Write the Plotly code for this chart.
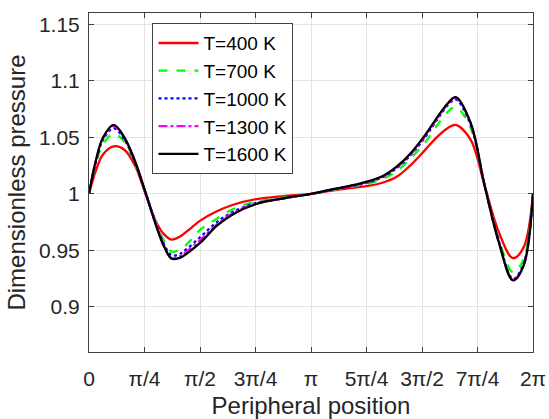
import numpy as np
import plotly.graph_objects as go

# Peripheral position (rad)
x_pos = [0.0, 0.1, 0.2, 0.35, 0.5, 0.65, 0.8, 0.95, 1.05, 1.17, 1.29, 1.38, 1.58, 1.81, 2.04, 2.37, 2.75,
         3.1416, 3.41, 3.69, 3.95, 4.165, 4.354, 4.54, 4.745, 4.92, 5.085, 5.19, 5.4, 5.6, 5.8, 6.0, 6.15, 6.2832]

p_400 = [1.0, 1.021, 1.035, 1.042, 1.039, 1.025, 1.000, 0.975, 0.965, 0.9594, 0.9622, 0.9665, 0.9765, 0.9845, 0.9903, 0.9953, 0.998,
         1.0, 1.0026, 1.005, 1.007, 1.010, 1.015, 1.0247, 1.038, 1.050, 1.0585, 1.061, 1.048, 1.007, 0.966, 0.943, 0.9526, 1.0]
p_700 = [1.0, 1.027, 1.044, 1.053, 1.046, 1.027, 1.001, 0.974, 0.960, 0.9488, 0.951, 0.955, 0.9685, 0.978, 0.9865, 0.993, 0.9965,
         1.0, 1.003, 1.006, 1.009, 1.0135, 1.020, 1.0306, 1.0444, 1.060, 1.073, 1.0768, 1.0585, 1.007, 0.960, 0.9306, 0.942, 1.0]
p_1000 = [1.0, 1.029, 1.048, 1.058, 1.048, 1.028, 1.001, 0.973, 0.957, 0.9455, 0.947, 0.951, 0.962, 0.975, 0.984, 0.992, 0.9958,
          1.0, 1.0033, 1.0065, 1.010, 1.015, 1.0227, 1.0335, 1.049, 1.065, 1.079, 1.0835, 1.061, 1.007, 0.958, 0.9247, 0.938, 1.0]
p_1300 = [1.0, 1.030, 1.049, 1.060, 1.049, 1.029, 1.001, 0.972, 0.956, 0.943, 0.945, 0.949, 0.9595, 0.973, 0.983, 0.9915, 0.996,
          1.0, 1.0034, 1.0068, 1.0105, 1.0155, 1.0235, 1.034, 1.050, 1.066, 1.080, 1.085, 1.062, 1.007, 0.957, 0.924, 0.937, 1.0]
p_1600 = [1.0, 1.030, 1.050, 1.061, 1.050, 1.029, 1.001, 0.9718, 0.955, 0.9425, 0.9435, 0.947, 0.957, 0.9718, 0.982, 0.991, 0.996,
          1.0, 1.0035, 1.007, 1.011, 1.016, 1.024, 1.035, 1.051, 1.067, 1.0806, 1.0856, 1.063, 1.007, 0.957, 0.9234, 0.9365, 1.0]

x_tick_vals = [0, np.pi/4, np.pi/2, 3*np.pi/4, np.pi, 5*np.pi/4, 3*np.pi/2, 7*np.pi/4, 2*np.pi]
x_tick_text = ["0", "π/4", "π/2", "3π/4", "π", "5π/4", "3π/2", "7π/4", "2π"]
y_tick_vals = [0.9, 0.95, 1.0, 1.05, 1.1, 1.15]
y_tick_text = ["0.9", "0.95", "1", "1.05", "1.1", "1.15"]

series = [
    ("T=400 K", p_400, "#FF0000", "solid"),
    ("T=700 K", p_700, "#00FF00", "dash"),
    ("T=1000 K", p_1000, "#0000FF", "dot"),
    ("T=1300 K", p_1300, "#FF00FF", "dashdot"),
    ("T=1600 K", p_1600, "#000000", "solid"),
]

fig = go.Figure()
for name, vals, col, dash in series:
    fig.add_trace(go.Scatter(
        x=x_pos, y=vals, mode="lines", name=name,
        line=dict(color=col, width=2.3, dash=dash, shape="spline", smoothing=1.0),
    ))

axis_col = "#404040"
fig.update_layout(
    width=549, height=419,
    margin=dict(l=89, r=16, t=13, b=67),
    paper_bgcolor="white", plot_bgcolor="white",
    font=dict(family="Liberation Sans, Arial, sans-serif", size=21, color="#262626"),
    showlegend=True,
    legend=dict(
        x=0.143, y=0.97, xanchor="left", yanchor="top",
        bgcolor="white", bordercolor=axis_col, borderwidth=1,
        font=dict(size=19, color="#000000"),
        tracegroupgap=0, itemwidth=40,
    ),
)
fig.update_xaxes(
    range=[0, 2*np.pi], tickmode="array", tickvals=x_tick_vals, ticktext=x_tick_text,
    showgrid=True, gridcolor="#E3E3E3", gridwidth=1,
    showline=True, linecolor=axis_col, linewidth=1, mirror="ticks",
    ticks="inside", ticklen=5, tickcolor=axis_col,
    zeroline=False, ticklabelstandoff=8, automargin=False,
    title=dict(text="Peripheral position", font=dict(size=24, color="#262626"), standoff=9),
    tickfont=dict(size=21, color="#262626"),
)
fig.update_yaxes(
    range=[0.86, 1.16], tickmode="array", tickvals=y_tick_vals, ticktext=y_tick_text,
    showgrid=True, gridcolor="#E3E3E3", gridwidth=1,
    showline=True, linecolor=axis_col, linewidth=1, mirror="ticks",
    ticks="inside", ticklen=5, tickcolor=axis_col,
    zeroline=False, ticklabelstandoff=4, automargin=False,
    title=dict(text="Dimensionless pressure", font=dict(size=24, color="#262626"), standoff=6),
    tickfont=dict(size=21, color="#262626"),
)

fig.write_html("out.html")
